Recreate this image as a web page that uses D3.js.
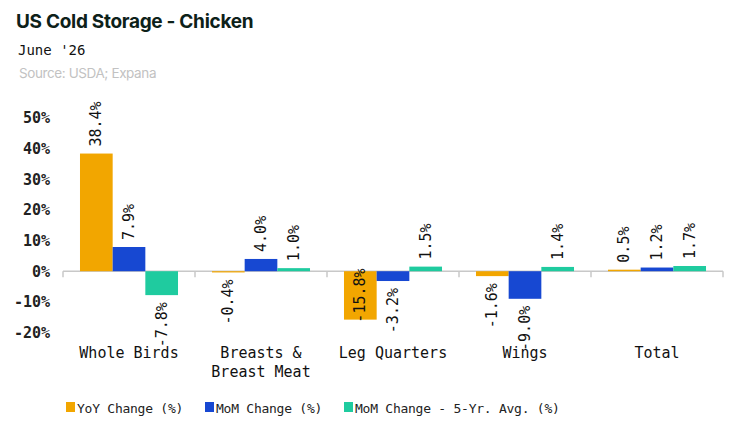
<!DOCTYPE html>
<html>
<head>
<meta charset="utf-8">
<script src="https://cdn.jsdelivr.net/npm/d3@7"></script>
<style>
  body { margin: 0; background: #fff; }
</style>
</head>
<body>
<div id="chart"></div>
<script>
const categories = ["Whole Birds", "Breasts & Breast Meat", "Leg Quarters", "Wings", "Total"];
const seriesNames = ["YoY Change (%)", "MoM Change (%)", "MoM Change - 5-Yr. Avg. (%)"];
const yoy = [38.4, -0.4, -15.8, -1.6, 0.5];
const mom = [7.9, 4.0, -3.2, -9.0, 1.2];
const mom5yr = [-7.8, 1.0, 1.5, 1.4, 1.7];
const yTicks = [-20, -10, 0, 10, 20, 30, 40, 50];

const colors = ["#f2a600", "#1748d2", "#1fcb9f"];
const mono = "'DejaVu Sans Mono', monospace";

const W = 742, H = 429;
const svg = d3.select("#chart").append("svg")
  .attr("width", W).attr("height", H);

// Titles
svg.append("text").attr("x", 16).attr("y", 28)
  .style("font-family", "Inter, 'Open Sans', sans-serif")
  .style("font-size", "19px").style("font-weight", "700")
  .style("fill", "#0d2119").style("letter-spacing", "-0.3px")
  .text("US Cold Storage - Chicken");
svg.append("text").attr("x", 18).attr("y", 55)
  .style("font-family", mono).style("font-size", "14px")
  .style("fill", "#111").text("June '26");
svg.append("text").attr("x", 19).attr("y", 78)
  .style("font-family", "Inter, 'Open Sans', sans-serif")
  .style("font-size", "13.5px").style("fill", "#c2c2c2")
  .style("letter-spacing", "-0.4px")
  .text("Source: USDA; Expana");

// Scales
const x0 = d3.scaleBand().domain(categories).range([63, 723]).padding(0);
const x1 = d3.scaleBand().domain(seriesNames)
  .range([0, x0.bandwidth()]).paddingOuter(0.52).paddingInner(0);
const y = d3.scaleLinear().domain([-20, 50]).range([332.5, 118]);
const plotBottom = 356;

// Y axis labels (no line)
const yAxis = svg.append("g").attr("transform", "translate(50,0)")
  .call(d3.axisLeft(y).tickValues(yTicks).tickSize(0).tickPadding(0)
    .tickFormat(d => d + "%"));
yAxis.select(".domain").remove();
yAxis.selectAll("text")
  .style("font-family", mono).style("font-size", "15px")
  .style("font-weight", "bold").style("fill", "#222");

// X axis at zero
const xAxis = svg.append("g").attr("transform", `translate(0,${y(0)})`);
xAxis.append("line").attr("x1", 63).attr("x2", 723)
  .attr("stroke", "#c8c8c8").attr("stroke-width", 1.5);
xAxis.selectAll(".tk").data(d3.range(categories.length + 1)).enter()
  .append("line")
  .attr("x1", i => 63 + i * x0.bandwidth()).attr("x2", i => 63 + i * x0.bandwidth())
  .attr("y1", 0).attr("y2", 6)
  .attr("stroke", "#c8c8c8").attr("stroke-width", 1.5);

// Category labels
const catLines = {"Breasts & Breast Meat": ["Breasts &", "Breast Meat"]};
categories.forEach(c => {
  const t = svg.append("text")
    .attr("x", x0(c) + x0.bandwidth() / 2).attr("y", 358)
    .attr("text-anchor", "middle")
    .style("font-family", mono).style("font-size", "15px").style("fill", "#111");
  (catLines[c] || [c]).forEach((part, i) => {
    t.append("tspan").attr("x", x0(c) + x0.bandwidth() / 2)
      .attr("dy", i === 0 ? 0 : 19).text(part);
  });
});

// Bars
const rows = categories.map((c, i) => ({cat: c, vals: [yoy[i], mom[i], mom5yr[i]]}));
const groups = svg.selectAll(".grp").data(rows).enter().append("g")
  .attr("transform", d => `translate(${x0(d.cat)},0)`);

const cells = groups.selectAll(".cell")
  .data(d => d.vals.map((v, j) => ({key: seriesNames[j], v: v, j: j})))
  .enter().append("g");

cells.append("rect")
  .attr("x", d => x1(d.key))
  .attr("y", d => y(Math.max(0, d.v)))
  .attr("width", x1.bandwidth())
  .attr("height", d => Math.abs(y(d.v) - y(0)))
  .attr("fill", d => colors[d.j]);

cells.append("text")
  .attr("dominant-baseline", "central")
  .style("font-family", mono).style("font-size", "15px").style("fill", "#111")
  .text(d => d.v.toFixed(1) + "%")
  .each(function(d) {
    const t = d3.select(this);
    const len = this.getComputedTextLength();
    const cx = x1(d.key) + x1.bandwidth() / 2;
    let py, anchor;
    if (d.v >= 0) {
      py = y(d.v) - 7; anchor = "start";
    } else if (y(d.v) + 7 + len <= plotBottom) {
      py = y(d.v) + 7; anchor = "end";
    } else {
      py = y(d.v) + 3; anchor = "start";
    }
    t.attr("text-anchor", anchor)
      .attr("transform", `translate(${cx},${py}) rotate(-90)`);
  });

// Legend
const legendX = [66, 205, 344];
const legend = svg.selectAll(".lg").data(seriesNames).enter().append("g")
  .attr("transform", (d, i) => `translate(${legendX[i]},402)`);
legend.append("rect").attr("width", 9).attr("height", 10)
  .attr("fill", (d, i) => colors[i]);
legend.append("text").attr("x", 11).attr("y", 10.5)
  .style("font-family", mono).style("font-size", "13px").style("fill", "#222")
  .style("letter-spacing", "-0.25px")
  .text(d => d);
</script>
</body>
</html>
